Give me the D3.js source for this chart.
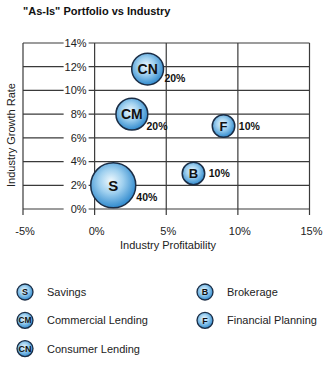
<!DOCTYPE html>
<html><head><meta charset="utf-8">
<script src="https://cdn.jsdelivr.net/npm/d3@7/dist/d3.min.js"></script>
<style>
body{margin:0;background:#fff;}
svg{display:block;font-family:"Liberation Sans",Arial,Helvetica,sans-serif;}
</style></head>
<body><svg id="c" width="336" height="378"></svg>
<script>
const codes = ["S","CM","CN","B","F"];
const names = ["Savings","Commercial Lending","Consumer Lending","Brokerage","Financial Planning"];
const profitability = [1.3, 2.6, 3.7, 6.9, 9.0];
const growth = [2.0, 8.0, 11.8, 3.0, 7.0];
const share = [40, 20, 20, 10, 10];
const xTicks = [-5, 0, 5, 10, 15];
const yTicks = [0, 2, 4, 6, 8, 10, 12, 14];
const title = "\"As-Is\" Portfolio vs Industry";
const xTitle = "Industry Profitability";
const yTitle = "Industry Growth Rate";

const svg = d3.select("#c");
const x = d3.scaleLinear().domain([-5, 15]).range([23, 309.5]);
const y = d3.scaleLinear().domain([0, 14]).range([209, 43]);
const r = d3.scaleSqrt().domain([0, 40]).range([0, 22.5]);
const ink = "#222";

const defs = svg.append("defs");
const grad = defs.append("radialGradient").attr("id","bub")
  .attr("cx","45%").attr("cy","42%").attr("r","60%").attr("fx","45%").attr("fy","40%");
grad.append("stop").attr("offset","0%").attr("stop-color","#eef8fd");
grad.append("stop").attr("offset","45%").attr("stop-color","#9fd0ef");
grad.append("stop").attr("offset","100%").attr("stop-color","#2a86cc");

svg.append("text").attr("x",23).attr("y",15).attr("font-size",11).attr("font-weight","bold")
  .attr("fill","#111").text(title);

const g = svg.append("g");
g.selectAll("line.h").data(yTicks).join("line").attr("class","h")
  .attr("x1",x(-5)).attr("x2",x(15)).attr("y1",d=>y(d)).attr("y2",d=>y(d))
  .attr("stroke","#3a3a3a").attr("stroke-width",1.2);
g.selectAll("line.v").data(xTicks).join("line").attr("class","v")
  .attr("x1",d=>x(d)).attr("x2",d=>x(d)).attr("y1",y(14)).attr("y2",y(0)+6)
  .attr("stroke","#3a3a3a").attr("stroke-width",1.2);

const yl = g.selectAll("g.yl").data(yTicks).join("g").attr("class","yl")
  .attr("transform",d=>`translate(${x(0)},${y(d)})`);
yl.append("rect").attr("x",-31).attr("y",-6).attr("width",25).attr("height",12).attr("fill","#fff");
yl.append("text").attr("x",-8).attr("dy","0.35em").attr("text-anchor","end")
  .attr("font-size",11).attr("fill",ink).text(d=>d+"%");

g.selectAll("text.xl").data(xTicks).join("text").attr("class","xl")
  .attr("x",d=>x(d)+2).attr("y",235).attr("text-anchor","middle")
  .attr("font-size",11).attr("fill",ink).text(d=>d+"%");

svg.append("text").attr("x",168).attr("y",249).attr("text-anchor","middle")
  .attr("font-size",11).attr("fill",ink).text(xTitle);
svg.append("text").attr("transform","translate(15,135) rotate(-90)").attr("text-anchor","middle")
  .attr("font-size",11).attr("fill",ink).text(yTitle);

const data = codes.map((c,i)=>({c, n:names[i], px:profitability[i], gy:growth[i], s:share[i]}));
const bg = svg.append("g").selectAll("g").data(data).join("g")
  .attr("transform",d=>`translate(${x(d.px)},${y(d.gy)})`);
bg.append("circle").attr("r",d=>r(d.s)).attr("fill","url(#bub)")
  .attr("stroke","#1b2d45").attr("stroke-width",1.5);
bg.append("text").attr("text-anchor","middle").attr("dy","0.36em")
  .attr("font-weight","bold").attr("font-size",d=>d.s>=40?15:(d.c.length>1?14:13))
  .attr("fill","#111").text(d=>d.c);

svg.append("g").selectAll("text").data(data).join("text")
  .attr("x",d=>{
    const band = Math.ceil(d.gy/2)*2-1;
    const dy = y(band)-y(d.gy);
    const rr = r(d.s);
    return x(d.px)+Math.sqrt(Math.max(rr*rr-dy*dy,0))+4;
  })
  .attr("y",d=>y(Math.ceil(d.gy/2)*2-1)).attr("dy","0.36em")
  .attr("font-size",10.5).attr("font-weight","bold").attr("fill","#111")
  .text(d=>d.s+"%");

const leg = svg.append("g").selectAll("g").data(data).join("g")
  .attr("transform",(d,i)=>{
    const col = i<3?0:1, row = i<3?i:i-3;
    return `translate(${col?205:25},${292+row*28.3})`;
  });
leg.append("circle").attr("r",8).attr("fill","url(#bub)").attr("stroke","#1b2d45").attr("stroke-width",1.3);
leg.append("text").attr("text-anchor","middle").attr("dy","0.36em").attr("font-weight","bold")
  .attr("font-size",d=>d.c.length>1?8.5:9).attr("fill","#111")
  .attr("textLength",d=>d.c.length>1?13:null).attr("lengthAdjust","spacingAndGlyphs")
  .text(d=>d.c);
leg.append("text").attr("x",22).attr("dy","0.36em").attr("font-size",11).attr("fill",ink).text(d=>d.n);
</script></body></html>
